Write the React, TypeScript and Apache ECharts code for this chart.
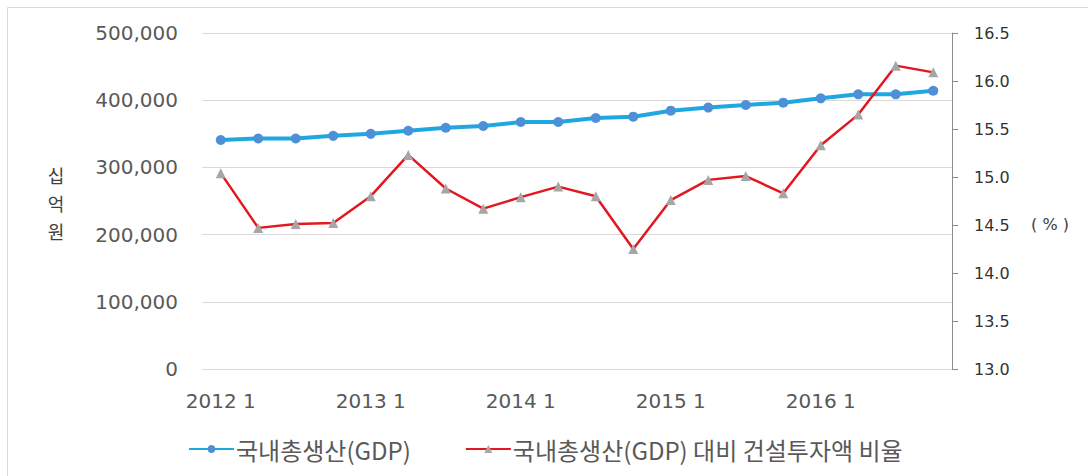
import React, { useEffect, useRef } from "react";
import * as echarts from "echarts";

const categories = [
  "2012 1", "2012 2", "2012 3", "2012 4",
  "2013 1", "2013 2", "2013 3", "2013 4",
  "2014 1", "2014 2", "2014 3", "2014 4",
  "2015 1", "2015 2", "2015 3", "2015 4",
  "2016 1", "2016 2", "2016 3", "2016 4",
];

const gdpValues = [
  340800, 343000, 343000, 347000, 350000, 354600, 359000, 361600, 367500, 367500,
  373500, 375500, 384400, 389000, 392900, 396300, 402800, 408700, 408700, 414100,
];

const ratioValues = [
  15.04, 14.47, 14.51, 14.52, 14.8, 15.23, 14.88, 14.67, 14.79, 14.9,
  14.8, 14.25, 14.76, 14.97, 15.01, 14.83, 15.33, 15.65, 16.16, 16.09,
];

const gdpName = "국내총생산(GDP)";
const ratioName = "국내총생산(GDP) 대비 건설투자액 비율";
const leftAxisName = "십억원";
const rightAxisName = "( % )";

const numFont = "DejaVu Sans, Verdana, sans-serif";
const krFont = "Noto Sans CJK KR, sans-serif";

export default function App() {
  const ref = useRef<HTMLDivElement>(null);

  useEffect(() => {
    if (!ref.current) return;
    const chart = echarts.init(ref.current, null, { renderer: "svg" });
    const nameChars = leftAxisName.split("").map((ch, i) => ({
      type: "text",
      x: 56,
      y: 175 + i * 28,
      style: {
        text: ch,
        fontFamily: krFont,
        fontSize: 18,
        lineHeight: 20,
        fill: "#404040",
        align: "center",
        verticalAlign: "middle",
      },
    }));
    chart.setOption({
      animation: false,
      backgroundColor: "#ffffff",
      grid: { left: 202, right: 136, top: 33, bottom: 107, containLabel: false },
      legend: {
        left: 183,
        top: 432,
        itemWidth: 45,
        itemHeight: 10,
        itemGap: 54,
        textStyle: { fontFamily: krFont, fontSize: 24, color: "#595959", padding: [0, 0, 0, -3] },
        data: [{ name: gdpName }, { name: ratioName }],
      },
      xAxis: {
        type: "category",
        data: categories,
        boundaryGap: true,
        axisLine: { show: true, lineStyle: { color: "#d9d9d9", width: 1 } },
        axisTick: { show: false },
        axisLabel: {
          interval: 3,
          margin: 22,
          fontFamily: numFont,
          fontSize: 20,
          color: "#595959",
          formatter: (v: string) => v,
        },
      },
      yAxis: [
        {
          type: "value",
          min: 0,
          max: 500000,
          interval: 100000,
          position: "left",
          axisLine: { show: false },
          axisTick: { show: false },
          splitLine: { show: true, lineStyle: { color: "#d9d9d9", width: 1 } },
          axisLabel: {
            margin: 24,
            fontFamily: numFont,
            fontSize: 20,
            color: "#595959",
            formatter: (v: number) => v.toLocaleString("en-US"),
          },
        },
        {
          type: "value",
          min: 13,
          max: 16.5,
          interval: 0.5,
          position: "right",
          axisLine: { show: true, lineStyle: { color: "#8c8c8c", width: 1 } },
          axisTick: { show: true, inside: false, length: 6, lineStyle: { color: "#8c8c8c" } },
          splitLine: { show: false },
          axisLabel: {
            margin: 22,
            fontFamily: numFont,
            fontSize: 16,
            color: "#333333",
            formatter: (v: number) => v.toFixed(1),
          },
        },
      ],
      series: [
        {
          name: gdpName,
          type: "line",
          yAxisIndex: 0,
          data: gdpValues,
          symbol: "circle",
          symbolSize: 10,
          showAllSymbol: true,
          lineStyle: { color: "#1fa8e0", width: 4 },
          itemStyle: { color: "#4e8fd8" },
          z: 3,
        },
        {
          name: ratioName,
          type: "line",
          yAxisIndex: 1,
          data: ratioValues,
          symbol: "triangle",
          symbolSize: 10,
          showAllSymbol: true,
          lineStyle: { color: "#e3171f", width: 2.5 },
          itemStyle: { color: "#a6a6a6" },
          z: 4,
        },
      ],
      graphic: [
        {
          type: "rect",
          shape: { x: 7.5, y: 7.5, width: 1200, height: 600 },
          style: { fill: "none", stroke: "#d9d9d9", lineWidth: 1 },
          silent: true,
          z: -10,
        },
        ...nameChars,
        {
          type: "text",
          x: 1050,
          y: 224,
          style: {
            text: rightAxisName,
            fontFamily: numFont,
            fontSize: 16,
            fill: "#404040",
            align: "center",
            verticalAlign: "middle",
          },
        },
      ],
    });
    return () => chart.dispose();
  }, []);

  return (
    <div
      ref={ref}
      style={{ position: "absolute", left: 0, top: 0, width: 1088, height: 476 }}
    />
  );
}
